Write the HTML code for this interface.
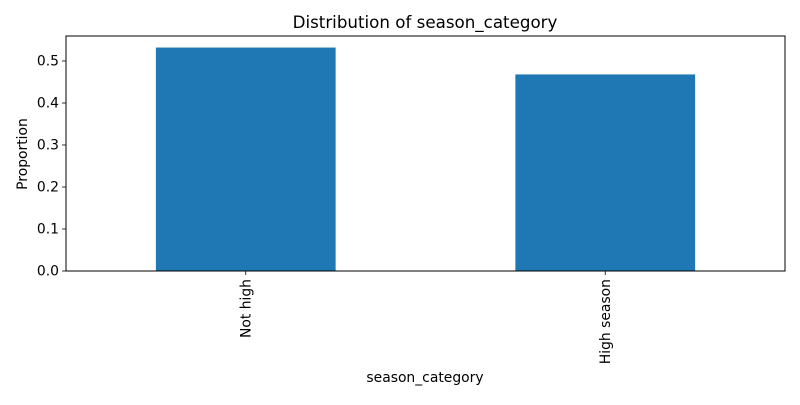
<!DOCTYPE html>
<html><head><meta charset="utf-8"><style>
body{margin:0;background:#fff;}
svg text{font-family:"DejaVu Sans","Liberation Sans",sans-serif;fill:#000;}
</style></head><body>
<svg id="chart" width="800" height="400" xmlns="http://www.w3.org/2000/svg">
<rect width="800" height="400" fill="#fff"/>
<text x="425" y="28" font-size="16.7" text-anchor="middle">Distribution of season_category</text>
<text x="0" y="0" font-size="13.9" text-anchor="middle" transform="translate(27,154) rotate(-90)">Proportion</text>
<text x="425" y="382" font-size="13.9" text-anchor="middle">season_category</text>
<g id="bars"></g><g id="axes"></g>
</svg>
<script>
const categories = ["Not high", "High season"];
const values = [0.532, 0.468];
const yTicks = [0.0, 0.1, 0.2, 0.3, 0.4, 0.5];
const yTickLabels = ["0.0", "0.1", "0.2", "0.3", "0.4", "0.5"];

const L=66,R=785,T=36,B=271;
const NS="http://www.w3.org/2000/svg";
const yScale=v=>B-v*420;
const xScale=i=>L+(i+0.5)*(R-L)/categories.length;
const bw=0.5*(R-L)/categories.length;
const bars=document.getElementById('bars'), axes=document.getElementById('axes');
function mk(tag,attrs,parent){const e=document.createElementNS(NS,tag);for(const k in attrs)e.setAttribute(k,attrs[k]);parent.appendChild(e);return e;}
categories.forEach((c,i)=>{
  const r=mk('rect',{x:xScale(i)-bw/2,y:yScale(values[i]),width:bw,height:B-yScale(values[i]),fill:'#1f77b4'},bars);
  
  
  const t=mk('line',{x1:xScale(i),x2:xScale(i),y1:B,y2:B+4,stroke:'#000','stroke-width':0.8},axes);
  
  
  const lb=mk('text',{x:0,y:0,'font-size':13.9,'text-anchor':'end',transform:`translate(${xScale(i)+4.5},${B+8}) rotate(-90)`},axes);
  lb.textContent=c;
  
  
});
yTicks.forEach((v,i)=>{
  const t=mk('line',{x1:L-4,x2:L,y1:yScale(v),y2:yScale(v),stroke:'#000','stroke-width':0.8},axes);
  
  
  const lb=mk('text',{x:L-7,y:yScale(v)+4.5,'font-size':13.9,'text-anchor':'end'},axes);
  lb.textContent=yTickLabels[i];
  
  
});
const f=mk('rect',{x:L,y:T,width:R-L,height:B-T,fill:'none',stroke:'#000','stroke-width':1},axes);


</script>
</body></html>
